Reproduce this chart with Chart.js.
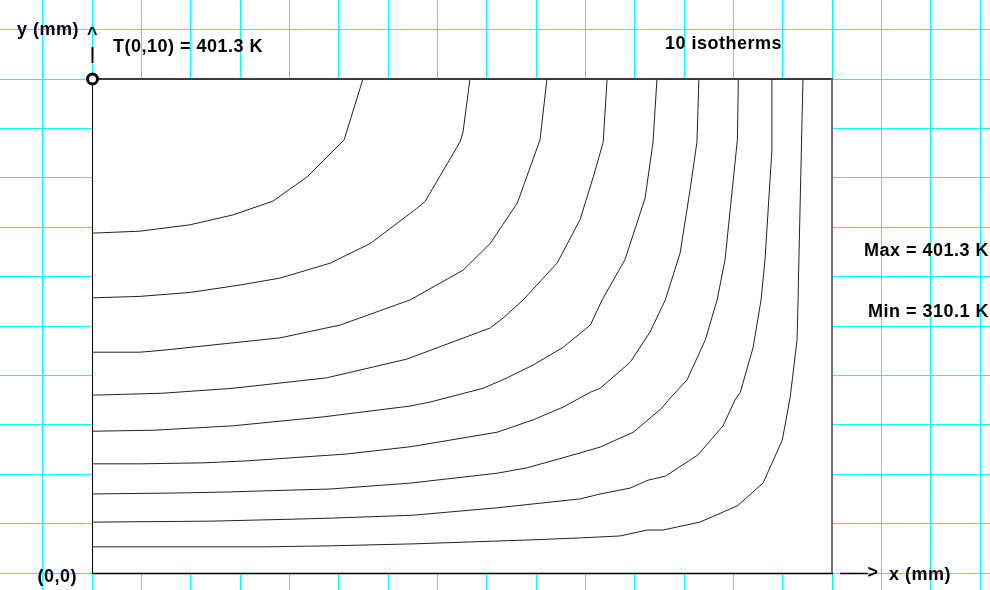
<!DOCTYPE html>
<html>
<head>
<meta charset="utf-8">
<script src="https://cdn.jsdelivr.net/npm/chart.js@4.4.1/dist/chart.umd.min.js"></script>
<style>
  html, body { margin: 0; padding: 0; background: #fff; }
  #contenedor { width: 990px; height: 590px; }
</style>
</head>
<body>
<div id="contenedor"><canvas id="isotermas" width="990" height="590"></canvas></div>
<script>

// placa de 15 x 10 mm
var anchoMM = 15;
var altoMM = 10;

var tEsquina = 401.3;
var tMax = 401.3;
var tMin = 310.1;
var numIsotermas = 10;

// isotermas [x mm, y mm], de la mas caliente a la mas fria
var iso1 = [[0, 6.88], [0.97, 6.92], [1.99, 7.05], [2.86, 7.25], [3.67, 7.53], [4.36, 8.02], [5.11, 8.77], [5.49, 10]];
var iso2 = [[0, 5.57], [0.97, 5.60], [1.99, 5.68], [3.0, 5.83], [3.81, 5.97], [4.82, 6.27], [5.64, 6.67], [6.58, 7.38], [6.75, 7.52], [7.46, 8.73], [7.52, 8.93], [7.66, 10]];
var iso3 = [[0, 4.47], [0.97, 4.47], [1.44, 4.51], [2.86, 4.66], [3.81, 4.76], [5.03, 5.02], [6.45, 5.53], [7.52, 6.13], [8.07, 6.67], [8.62, 7.49], [9.08, 8.77], [9.22, 10]];
var iso4 = [[0, 3.60], [1.44, 3.64], [2.86, 3.74], [4.75, 3.95], [6.38, 4.33], [8.07, 4.96], [8.33, 5.16], [8.74, 5.53], [9.43, 6.28], [9.89, 7.15], [10.16, 8.02], [10.36, 8.72], [10.44, 10]];
var iso5 = [[0, 2.87], [1.24, 2.89], [2.86, 2.98], [4.68, 3.16], [6.45, 3.38], [6.85, 3.46], [7.93, 3.74], [8.41, 3.95], [8.94, 4.21], [9.55, 4.57], [10.10, 5.02], [10.34, 5.53], [10.80, 6.34], [11.21, 7.59], [11.37, 8.72], [11.45, 10]];
var iso6 = [[0, 2.21], [0.97, 2.21], [2.25, 2.23], [3.14, 2.27], [5.17, 2.41], [6.48, 2.56], [8.21, 2.85], [8.94, 3.10], [9.55, 3.36], [10.10, 3.66], [10.30, 3.74], [10.91, 4.27], [11.31, 4.88], [11.62, 5.53], [11.92, 6.48], [12.12, 7.75], [12.26, 8.72], [12.30, 10]];
var iso7 = [[0, 1.60], [1.74, 1.62], [2.74, 1.64], [4.07, 1.68], [4.82, 1.70], [6.45, 1.82], [8.21, 2.02], [8.82, 2.13], [9.89, 2.43], [10.30, 2.55], [10.97, 2.85], [11.55, 3.34], [11.68, 3.50], [12.06, 3.91], [12.43, 4.72], [12.67, 5.53], [12.83, 6.34], [13.08, 8.77], [13.10, 10]];
var iso8 = [[0, 1.03], [2.43, 1.05], [4.07, 1.09], [4.82, 1.11], [6.51, 1.17], [8.21, 1.32], [9.89, 1.50], [10.30, 1.60], [10.91, 1.72], [11.27, 1.88], [11.62, 1.96], [12.28, 2.39], [12.79, 2.98], [13.03, 3.50], [13.14, 3.66], [13.40, 4.57], [13.56, 5.53], [13.64, 6.34], [13.78, 8.56], [13.78, 10]];
var iso9 = [[0, 0.53], [3.55, 0.53], [4.82, 0.55], [6.51, 0.59], [8.88, 0.67], [9.89, 0.71], [10.70, 0.75], [11.25, 0.87], [11.57, 0.87], [12.32, 1.03], [13.08, 1.36], [13.60, 1.82], [13.99, 2.69], [14.15, 3.56], [14.29, 4.72], [14.31, 5.53], [14.33, 6.48], [14.39, 9.17], [14.41, 10]];

var isotermas = [iso1, iso2, iso3, iso4, iso5, iso6, iso7, iso8, iso9];

var fuente = 'bold 18px "Liberation Sans", Arial, sans-serif';
var cian = '#00ffff';


function aPuntos(lista) {
  return lista.map(function (p) { return { x: p[0], y: p[1] }; });
}


// rellena la placa de blanco y tapa la rejilla
var marco = {
  id: 'marco',
  beforeDatasetsDraw: function (chart) {
    const ctx = chart.ctx;
    const ex = chart.scales.x;
    const ey = chart.scales.y;
    const x0 = ex.getPixelForValue(0);
    const x1 = ex.getPixelForValue(anchoMM);
    const y0 = ey.getPixelForValue(0);
    const y1 = ey.getPixelForValue(altoMM);
    ctx.save();
    ctx.fillStyle = '#fff';
    ctx.fillRect(x0 + 1, y1 + 1, x1 - x0 - 1, y0 - y1 - 1);
    ctx.restore();
  },
  afterDatasetsDraw: function (chart) {
    const ctx = chart.ctx;
    const ex = chart.scales.x;
    const ey = chart.scales.y;
    const x0 = Math.round(ex.getPixelForValue(0));
    const x1 = Math.round(ex.getPixelForValue(anchoMM));
    const y0 = Math.round(ey.getPixelForValue(0));
    const y1 = Math.round(ey.getPixelForValue(altoMM));

    ctx.save();

    // bordes
    ctx.strokeStyle = '#000';
    ctx.lineWidth = 1;
    ctx.beginPath();
    ctx.moveTo(x0 + 0.5, y1);
    ctx.lineTo(x0 + 0.5, y0);
    ctx.stroke();

    ctx.lineWidth = 1.5;
    ctx.beginPath();
    ctx.moveTo(x0, y0 + 0.5);
    ctx.lineTo(x1 + 1, y0 + 0.5);
    ctx.stroke();

    ctx.strokeStyle = '#3c3c3c';
    ctx.lineWidth = 2;
    ctx.beginPath();
    ctx.moveTo(x0, y1);
    ctx.lineTo(x1 + 1, y1);
    ctx.stroke();

    ctx.strokeStyle = '#707070';
    ctx.beginPath();
    ctx.moveTo(x1, y1);
    ctx.lineTo(x1, y0);
    ctx.stroke();

    // eje y: marca y circulo en (0,10)
    ctx.strokeStyle = '#000';
    ctx.lineWidth = 2;
    ctx.beginPath();
    ctx.moveTo(x0 + 0.5, y1 - 32);
    ctx.lineTo(x0 + 0.5, y1 - 16);
    ctx.stroke();

    ctx.lineWidth = 3;
    ctx.fillStyle = '#fff';
    ctx.beginPath();
    ctx.arc(x0 + 0.5, y1, 5, 0, Math.PI * 2);
    ctx.fill();
    ctx.stroke();

    // flecha eje x
    ctx.lineWidth = 1.5;
    ctx.beginPath();
    ctx.moveTo(x1 + 8, y0 + 0.5);
    ctx.lineTo(x1 + 36, y0 + 0.5);
    ctx.stroke();

    // textos
    ctx.fillStyle = '#000';
    ctx.font = fuente;
    ctx.letterSpacing = '0.5px';
    ctx.textBaseline = 'alphabetic';
    ctx.textAlign = 'left';
    ctx.fillText('y (mm)', 17, 35);
    ctx.fillText('T(0,10) = ' + tEsquina.toFixed(1) + ' K', 113, 52);
    ctx.fillText(numIsotermas + ' isotherms', 665, 49);
    ctx.fillText('x (mm)', 889, 580);

    ctx.textAlign = 'center';
    ctx.fillText('^', x0 + 0.5, 40);
    ctx.textBaseline = 'middle';
    ctx.fillText('>', x1 + 41, y0);

    ctx.textBaseline = 'alphabetic';
    ctx.textAlign = 'right';
    ctx.fillText('Max = ' + tMax.toFixed(1) + ' K', 989, 256);
    ctx.fillText('Min = ' + tMin.toFixed(1) + ' K', 989, 317);
    ctx.fillText('(0,0)', 77, 582);

    ctx.restore();
  }
};


function generarChart() {

  const ctx = document.getElementById('isotermas');

  const datasets = isotermas.map(function (iso, i) {
    return {
      label: 'iso' + (i + 1),
      data: aPuntos(iso),
      showLine: true,
      borderColor: '#222',
      borderWidth: 1,
      pointRadius: 0,
      tension: 0,
      fill: false
    };
  });

  new Chart(ctx, {
    type: 'scatter',
    data: { datasets: datasets },
    options: {
      responsive: false,
      animation: false,
      layout: { padding: 0 },
      plugins: {
        legend: { display: false },
        tooltip: { enabled: false }
      },
      scales: {
        x: {
          type: 'linear',
          min: -1.865,
          max: 18.2,
          border: { display: false },
          grid: { color: cian, lineWidth: 1, drawTicks: false },
          ticks: { display: false, stepSize: 1, includeBounds: false }
        },
        y: {
          type: 'linear',
          min: -0.344,
          max: 11.6,
          border: { display: false },
          grid: { color: cian, lineWidth: 1, drawTicks: false },
          ticks: { display: false, stepSize: 1, includeBounds: false }
        }
      }
    },
    plugins: [marco]
  });
}

document.addEventListener('DOMContentLoaded', function () {
  generarChart();
});

</script>
</body>
</html>
